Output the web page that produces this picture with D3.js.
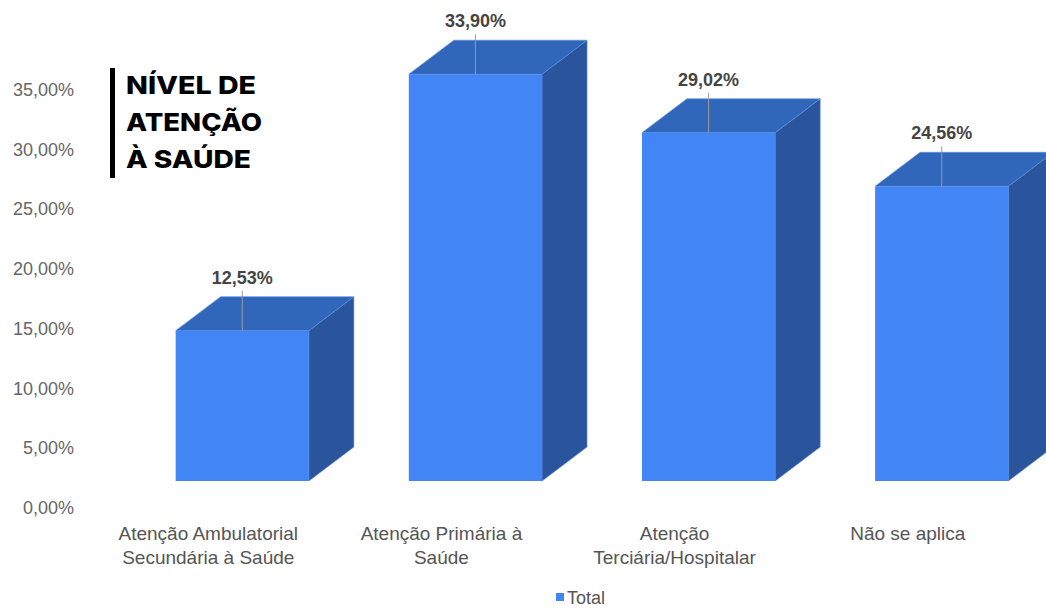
<!DOCTYPE html>
<html>
<head>
<meta charset="utf-8">
<script src="https://cdn.jsdelivr.net/npm/d3@7"></script>
<style>
  html, body { margin: 0; padding: 0; background: #fff; }
  svg { display: block; }
</style>
</head>
<body>
<svg id="chart" width="1046" height="608"></svg>
<script>
// Nível de atenção à saúde – share of responses per level
const categories = [
  "Atenção Ambulatorial Secundária à Saúde",
  "Atenção Primária à Saúde",
  "Atenção Terciária/Hospitalar",
  "Não se aplica"
];
const totals = [12.53, 33.90, 29.02, 24.56];
const yTicks = [0, 5, 10, 15, 20, 25, 30, 35];
const titleLines = ["NÍVEL DE", "ATENÇÃO", "À SAÚDE"];
const seriesName = "Total";

const fmtPct = v => d3.format(".2f")(v).replace(".", ",") + "%";

const svg = d3.select("#chart");
const W = 1046, H = 608;

// 3D projection of the bar depth
const depthX = 45, depthY = -34;

const colors = {
  front: "#4285f4",
  top: "#3167bb",
  side: "#2a559d",
  edge: "#5b8fe0",
  axisText: "#666666",
  catText: "#555555",
  valueText: "#444444",
  leader: "#9a9a9a"
};

const data = categories.map((c, i) => ({ category: c, value: totals[i] }));

// Front-face scales
const x = d3.scaleBand()
  .domain(categories)
  .range([125.7, 1058.3])
  .paddingInner(0.4286)
  .paddingOuter(0.2143);

const y = d3.scaleLinear().domain([0, 35]).range([481, 61]);

// Axis labels sit on the floor plane of the projected chart
const yAxisScale = d3.scaleLinear().domain([0, 35]).range([507, 89]);

const yAxis = d3.axisLeft(yAxisScale)
  .tickValues(yTicks)
  .tickSize(0)
  .tickPadding(0)
  .tickFormat(fmtPct);

const gy = svg.append("g")
  .attr("transform", "translate(74,0)")
  .call(yAxis);
gy.select(".domain").remove();
gy.selectAll("text")
  .attr("font-family", "'Liberation Sans', Arial, sans-serif")
  .attr("font-size", 18)
  .attr("fill", colors.axisText)
  .attr("dy", "0.36em");

// Bars
const bars = svg.append("g").selectAll("g.bar")
  .data(data)
  .join("g")
  .attr("class", "bar");

bars.append("path")
  .attr("fill", colors.side)
  .attr("stroke", colors.edge)
  .attr("stroke-width", 0.6)
  .attr("d", d => {
    const x1 = x(d.category) + x.bandwidth();
    const yt = y(d.value), yb = y(0);
    return `M${x1},${yt}L${x1 + depthX},${yt + depthY}L${x1 + depthX},${yb + depthY}L${x1},${yb}Z`;
  });

bars.append("path")
  .attr("fill", colors.top)
  .attr("stroke", colors.edge)
  .attr("stroke-width", 0.6)
  .attr("d", d => {
    const x0 = x(d.category), x1 = x0 + x.bandwidth();
    const yt = y(d.value);
    return `M${x0},${yt}L${x0 + depthX},${yt + depthY}L${x1 + depthX},${yt + depthY}L${x1},${yt}Z`;
  });

bars.append("rect")
  .attr("fill", colors.front)
  .attr("x", d => x(d.category))
  .attr("y", d => y(d.value))
  .attr("width", x.bandwidth())
  .attr("height", d => y(0) - y(d.value));

// Value labels with leader lines
bars.append("line")
  .attr("stroke", colors.leader)
  .attr("stroke-width", 1)
  .attr("x1", d => x(d.category) + x.bandwidth() / 2)
  .attr("x2", d => x(d.category) + x.bandwidth() / 2)
  .attr("y1", d => y(d.value) - 40)
  .attr("y2", d => y(d.value));

bars.append("text")
  .attr("x", d => x(d.category) + x.bandwidth() / 2)
  .attr("y", d => y(d.value) - 47)
  .attr("text-anchor", "middle")
  .attr("font-family", "'Liberation Sans', Arial, sans-serif")
  .attr("font-weight", "bold")
  .attr("font-size", 18)
  .attr("fill", colors.valueText)
  .text(d => fmtPct(d.value));

// Category labels, wrapped to the available width
const catG = svg.append("g");
const catOffset = -34;
categories.forEach(c => {
  const t = catG.append("text")
    .attr("text-anchor", "middle")
    .attr("font-family", "'Liberation Sans', Arial, sans-serif")
    .attr("font-size", 19)
    .attr("fill", colors.catText);
  const cx = x(c) + x.bandwidth() / 2 + catOffset;
  const words = c.split(" ");
  const lines = [];
  let line = [];
  const probe = t.append("tspan");
  words.forEach(w => {
    const trial = line.concat(w).join(" ");
    probe.text(trial);
    if (probe.node().getComputedTextLength() > 195 && line.length) {
      lines.push(line.join(" "));
      line = [w];
    } else {
      line.push(w);
    }
  });
  lines.push(line.join(" "));
  probe.remove();
  lines.forEach((l, i) => {
    t.append("tspan").attr("x", cx).attr("y", 540 + i * 24).text(l);
  });
});

// Legend
const legend = svg.append("g").attr("transform", "translate(556,593)");
legend.append("rect").attr("width", 8).attr("height", 8).attr("fill", colors.front);
legend.append("text")
  .attr("x", 11).attr("y", 11)
  .attr("font-family", "'Liberation Sans', Arial, sans-serif")
  .attr("font-size", 18)
  .attr("fill", colors.catText)
  .text(seriesName);

// Title block
const title = svg.append("g");
title.append("rect")
  .attr("x", 110).attr("y", 68)
  .attr("width", 5).attr("height", 110)
  .attr("fill", "#000");
const titleWidths = [130, 136, 125];
titleLines.forEach((l, i) => {
  title.append("text")
    .attr("x", 126)
    .attr("y", 94 + i * 37)
    .attr("font-family", "Inter, 'Open Sans', sans-serif")
    .attr("font-weight", 800)
    .attr("font-size", 25)
    .attr("fill", "#000")
    .attr("textLength", titleWidths[i])
    .attr("lengthAdjust", "spacingAndGlyphs")
    .text(l);
});
</script>
</body>
</html>
